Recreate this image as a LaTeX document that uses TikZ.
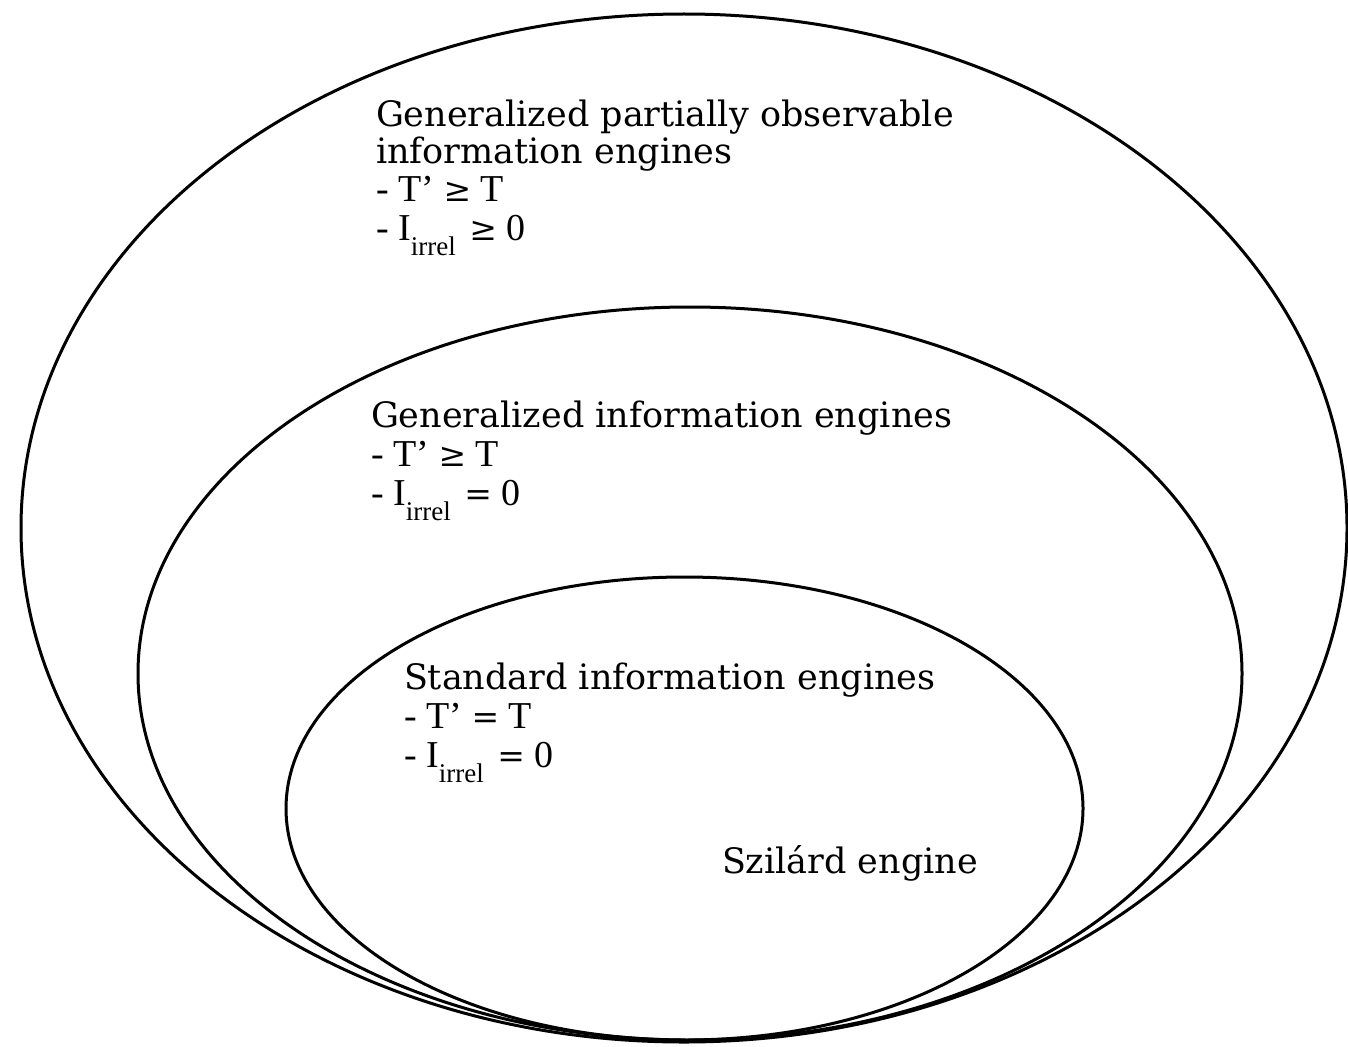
\documentclass[tikz,border=0pt]{standalone}
\usepackage{fontspec}
\setmainfont{DejaVu Serif}
\newfontfamily\formfont{Liberation Serif}
\newfontfamily\relfont{DejaVu Serif}
\tikzset{
  setline/.style={line width=3pt, black},
  heading/.style={anchor=base west, inner sep=0pt, outer sep=0pt,
    font=\fontsize{35}{37}\selectfont},
  formula/.style={anchor=base west, inner sep=0pt, outer sep=0pt,
    font=\formfont\fontsize{38}{40}\selectfont},
}
% subscript and relation signs used in the formula lines
\newcommand{\irrelsub}{\raisebox{-15pt}{\fontsize{27}{27}\selectfont irrel}\hspace{4pt}}
\newcommand{\relsign}[1]{{\relfont\fontsize{33}{33}\selectfont #1}}
\begin{document}
\begin{tikzpicture}[x=1pt, y=-1pt]
  % canvas
  \useasboundingbox (0,0) rectangle (1348,1046);
  \fill[white] (0,0) rectangle (1348,1046);

  % nested sets, all touching at the bottom
  \draw[setline] (684,528) ellipse [x radius=663, y radius=514];
  \draw[setline] (690,673.5) ellipse [x radius=552, y radius=366.5];
  \draw[setline] (684.5,808.5) ellipse [x radius=398.5, y radius=231.5];

  % outer set
  \node[heading] (po1) at (376,126) {Generalized partially observable};
  \node[heading] (po2) at (376,163) {information engines};
  \node[formula] (po3) at (376,201) {- T’ \relsign{≥} T};
  \node[formula] (po4) at (376,240) {- I\irrelsub{} \relsign{≥} 0};

  % middle set
  \node[heading] (gi1) at (371,427) {Generalized information engines};
  \node[formula] (gi2) at (371,466) {- T’ \relsign{≥} T};
  \node[formula] (gi3) at (371,505) {- I\irrelsub{} \relsign{=} 0};

  % inner set
  \node[heading] (si1) at (404,689) {Standard information engines};
  \node[formula] (si2) at (404,728) {- T’ \relsign{=} T};
  \node[formula] (si3) at (404,767) {- I\irrelsub{} \relsign{=} 0};

  % example inside the inner set
  \node[heading] (sz) at (722,873) {Szilárd engine};
\end{tikzpicture}
\end{document}
